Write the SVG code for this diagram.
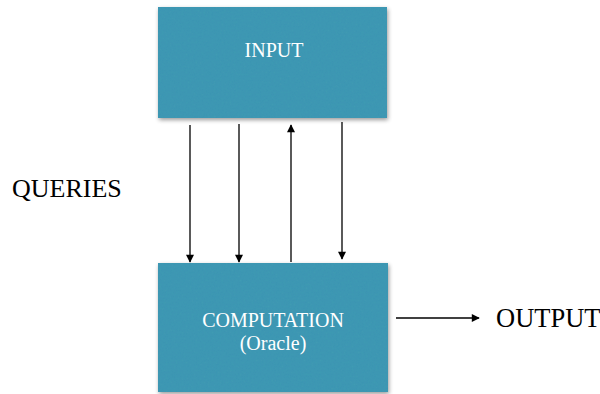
<svg xmlns="http://www.w3.org/2000/svg" width="600" height="394" viewBox="0 0 600 394">
<style>
.box{fill:#3c96b3;filter:url(#tex)}
.lbl{font-family:"Liberation Serif",serif;fill:#fff;font-size:20px;text-anchor:middle}
.txt{font-family:"Liberation Serif",serif;fill:#000}
.con{stroke:#000;stroke-width:1.3;fill:none;marker-end:url(#ah)}
</style>
<defs>
<marker id="ah" viewBox="0 0 10 10" refX="9" refY="5" markerWidth="9" markerHeight="8" orient="auto" markerUnits="userSpaceOnUse">
<path d="M0,0 L10,5 L0,10 z" fill="#000"/>
</marker>
<filter id="tex" x="-5%" y="-5%" width="110%" height="115%">
<feTurbulence type="fractalNoise" baseFrequency="0.5" numOctaves="3" seed="3" result="n"/>
<feColorMatrix in="n" type="matrix" values="0 0 0 0 0.05  0 0 0 0 0.32  0 0 0 0 0.45  0 0 0 2.2 -0.8" result="c"/>
<feComposite in="c" in2="SourceGraphic" operator="in" result="t"/>
<feGaussianBlur in="SourceAlpha" stdDeviation="2" result="b"/>
<feOffset in="b" dx="1" dy="2" result="s"/>
<feComponentTransfer in="s" result="sh"><feFuncA type="linear" slope="0.4"/></feComponentTransfer>
<feMerge><feMergeNode in="sh"/><feMergeNode in="SourceGraphic"/><feMergeNode in="t"/></feMerge>
</filter>
</defs>
<g id="input">
<rect class="box" x="158" y="7" width="229" height="111"/>
<text class="lbl" x="274" y="57">INPUT</text>
</g>
<g id="computation">
<rect class="box" x="158" y="263" width="230" height="129"/>
<text class="lbl" x="273" y="327">COMPUTATION</text>
<text class="lbl" x="273" y="350">(Oracle)</text>
</g>
<g id="queries"><text class="txt" x="12" y="197" font-size="26">QUERIES</text></g>
<g id="output"><text class="txt" x="496" y="327" font-size="26.5">OUTPUT</text></g>
<g id="connectors">
<line class="con" x1="190" y1="125" x2="190" y2="262"/>
<line class="con" x1="239" y1="124" x2="239" y2="262"/>
<line class="con" x1="291" y1="262" x2="291" y2="125"/>
<line class="con" x1="342" y1="122" x2="342" y2="259"/>
<line class="con" x1="396" y1="318" x2="479" y2="318"/>
</g>
</svg>
